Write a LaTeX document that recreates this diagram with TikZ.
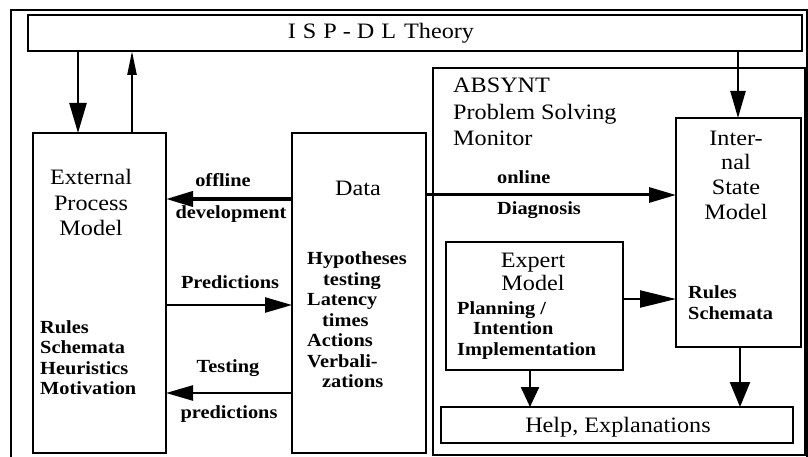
\documentclass[tikz,border=0pt]{standalone}
\usepackage{fontspec}
\setmainfont{Liberation Serif}[FakeStretch=1.1]
\usetikzlibrary{arrows.meta}
\begin{document}
\begin{tikzpicture}[x=1pt,y=-1pt,
  box/.style={draw, line width=2.2pt, inner sep=0pt, outer sep=0pt},
  reg/.style={inner sep=0pt, font=\fontsize{22}{25.5}\selectfont},
  bld/.style={inner sep=0pt, font=\bfseries\fontsize{18.5}{20.5}\selectfont},
  arr/.style={line width=2.4pt, -{Triangle[length=27pt,width=15pt]}},
]
\useasboundingbox (0,0) rectangle (808,457);
\clip (0,0) rectangle (808,457);
% frame and boxes
\node[box, line width=2pt, minimum width=796pt, minimum height=470pt] (frame) at (409,245) {};
\node[box, minimum width=774pt, minimum height=36pt] (isp) at (415,33) {};
\node[box, minimum width=133pt, minimum height=320pt] (ext) at (99.5,293) {};
\node[box, minimum width=134pt, minimum height=320pt] (data) at (359,293) {};
\node[box, minimum width=372pt, minimum height=387pt] (absynt) at (619,261.5) {};
\node[box, minimum width=125pt, minimum height=229pt] (internal) at (738.5,232.5) {};
\node[box, minimum width=177pt, minimum height=128pt] (expert) at (534.5,306) {};
\node[box, minimum width=352pt, minimum height=36pt] (help) at (617,425) {};
% texts
\node[reg] (isptext) at (381,33) {I\hspace{7pt}S\hspace{7pt}P\hspace{6pt}-\hspace{6pt}D\hspace{7pt}L\hspace{8pt}Theory};
\node[reg, align=center] (exttext) at (91,202.5) {External\\Process\\Model};
\node[bld, anchor=west, align=left] (extlist) at (40,357.5) {Rules\\Schemata\\Heuristics\\Motivation};
\node[reg] (datatext) at (358,188) {Data};
\node[bld, anchor=west, align=left] (datalist) at (307,320) {Hypotheses\\\hspace*{16pt}testing\\Latency\\\hspace*{15pt}times\\Actions\\Verbali-\\\hspace*{15pt}zations};
\node[reg, anchor=west, align=left, font=\fontsize{22}{26.5}\selectfont] (absynttext) at (453,112) {ABSYNT\\Problem Solving\\Monitor};
\node[reg, align=center, font=\fontsize{22}{24.7}\selectfont] (inttext) at (736,175) {Inter-\\nal\\State\\Model};
\node[bld, anchor=west, align=left] (intlist) at (688,302.5) {Rules\\Schemata};
\node[reg, align=center, font=\fontsize{22}{23}\selectfont] (experttext) at (533,271.5) {Expert\\Model};
\node[bld, anchor=west, align=left] (expertlist) at (457,330.5) {Planning /\\\hspace*{16pt}Intention\\Implementation};
\node[reg] (helptext) at (618,427) {Help, Explanations};
\node[bld] (lofflne) at (223,180) {offline};
\node[bld] (ldev) at (231,214) {development};
\node[bld] (lpred) at (230,282) {Predictions};
\node[bld] (ltest) at (228,368) {Testing};
\node[bld] (ltestp) at (229,414) {predictions};
\node[bld, anchor=west] (lonline) at (497,177) {online};
\node[bld, anchor=west] (ldiag) at (497,210) {Diagnosis};
% connector helpers
\coordinate (xa) at (78,0);
\coordinate (xb) at (132,0);
\coordinate (xc) at (738,0);
\coordinate (xd) at (530,0);
\coordinate (xe) at (740,0);
\coordinate (ya) at (0,199);
\coordinate (yb) at (0,305);
\coordinate (yc) at (0,393);
\coordinate (yd) at (0,195);
\coordinate (ye) at (0,299);
% connectors
\draw[arr, -{Triangle[length=30pt,width=17pt]}] (isp.south -| xa) -- (ext.north -| xa);
\draw[arr, -{Triangle[length=24pt,width=9pt]}] (ext.north -| xb) -- (isp.south -| xb);
\draw[arr] (isp.south -| xc) -- (internal.north -| xc);
\draw[arr, line width=4pt] (data.west |- ya) -- (ext.east |- ya);
\draw[arr] (ext.east |- yb) -- (data.west |- yb);
\draw[arr] (data.west |- yc) -- (ext.east |- yc);
\draw[arr, line width=3pt] (data.east |- yd) -- (internal.west |- yd);
\draw[arr, -{Triangle[length=36pt,width=17pt]}] (expert.east |- ye) -- (internal.west |- ye);
\draw[arr, -{Triangle[length=20pt,width=18pt]}] (expert.south -| xd) -- (help.north -| xd);
\draw[arr, -{Triangle[length=25pt,width=20pt]}] (internal.south -| xe) -- (help.north -| xe);
\end{tikzpicture}
\end{document}
